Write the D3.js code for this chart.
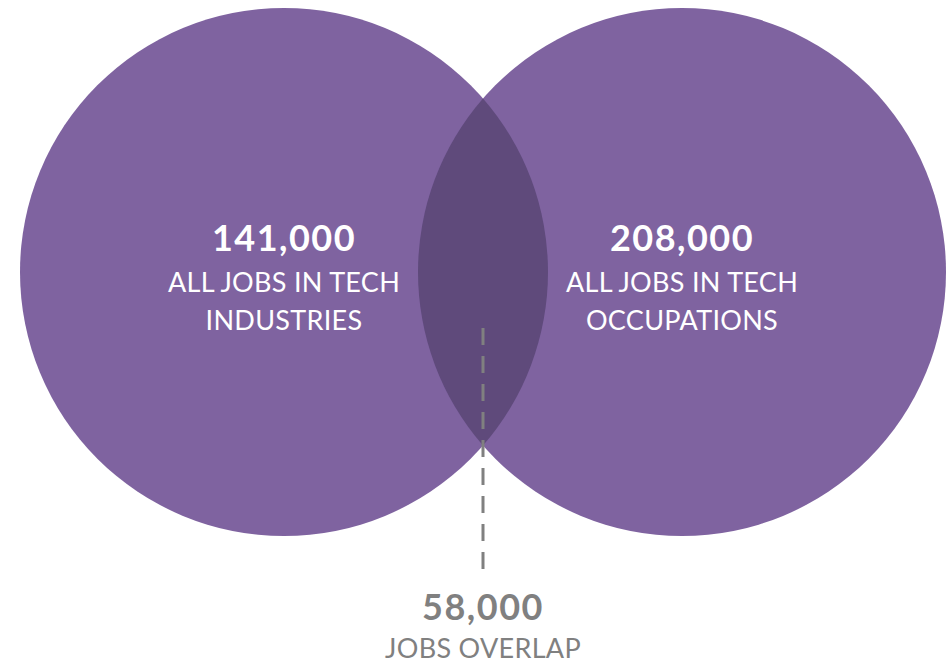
<!DOCTYPE html>
<html>
<head>
<meta charset="utf-8">
<script src="https://cdn.jsdelivr.net/npm/d3@7"></script>
<style>
  body { margin: 0; background: #fff; }
  text { font-family: Lato, "Open Sans", sans-serif; }
</style>
</head>
<body>
<script>
// chart data
var setNames = ["industries", "occupations"];
var setValues = [141000, 208000];
var setLabels = [["ALL JOBS IN TECH", "INDUSTRIES"], ["ALL JOBS IN TECH", "OCCUPATIONS"]];
var overlapValue = 58000;
var overlapLabel = "JOBS OVERLAP";

var svgWidth = 948;
var svgHeight = 664;

var svg = d3.select("body")
  .append("svg")
  .attr("width", svgWidth)
  .attr("height", svgHeight);

// circle centres spread with a point scale
var xScale = d3.scalePoint()
  .domain(setNames)
  .range([284, 682]);

var cy = 272;
var r = 264;
var fmt = d3.format(",");

var circleGroup = svg.selectAll(".set")
  .data(setNames)
  .enter()
  .append("circle")
  .attr("class", "set")
  .attr("cx", d => xScale(d))
  .attr("cy", cy)
  .attr("r", r)
  .attr("fill", "#7f63a0");

// the lens where both circles meet
var x1 = xScale(setNames[0]);
var x2 = xScale(setNames[1]);
var half = (x2 - x1) / 2;
var mx = x1 + half;
var h = Math.sqrt(r * r - half * half);
var lens = d3.path();
lens.moveTo(mx, cy - h);
lens.arc(x1, cy, r, -Math.asin(h / r), Math.asin(h / r));
lens.arc(x2, cy, r, Math.PI - Math.asin(h / r), Math.PI + Math.asin(h / r));
lens.closePath();

svg.append("path")
  .attr("d", lens.toString())
  .attr("fill", "#5f4a7b");

// value + label inside each circle
setNames.forEach(function(name, i) {
  var g = svg.append("g")
    .attr("transform", `translate(${xScale(name)}, 0)`);

  g.append("text")
    .attr("y", 251)
    .attr("text-anchor", "middle")
    .style("font-size", "36px")
    .style("font-weight", "bold")
    .style("letter-spacing", "1.5px")
    .style("fill", "#fff")
    .text(fmt(setValues[i]));

  g.selectAll(".lbl")
    .data(setLabels[i])
    .enter()
    .append("text")
    .attr("class", "lbl")
    .attr("y", (d, j) => 292 + j * 38)
    .attr("text-anchor", "middle")
    .style("font-size", "27px")
    .style("letter-spacing", "0.3px")
    .style("fill", "#fff")
    .text(d => d);
});

// dashed leader for the overlap
svg.append("line")
  .attr("x1", mx)
  .attr("x2", mx)
  .attr("y1", 328)
  .attr("y2", 569)
  .attr("stroke", "#808080")
  .attr("stroke-width", 3)
  .attr("stroke-dasharray", "17,11");

svg.append("text")
  .attr("x", mx)
  .attr("y", 620)
  .attr("text-anchor", "middle")
  .style("font-size", "36px")
  .style("font-weight", "bold")
  .style("letter-spacing", "1.5px")
  .style("fill", "#808080")
  .text(fmt(overlapValue));

svg.append("text")
  .attr("x", mx)
  .attr("y", 658)
  .attr("text-anchor", "middle")
  .style("font-size", "27px")
  .style("letter-spacing", "0.3px")
  .style("fill", "#808080")
  .text(overlapLabel);
</script>
</body>
</html>
